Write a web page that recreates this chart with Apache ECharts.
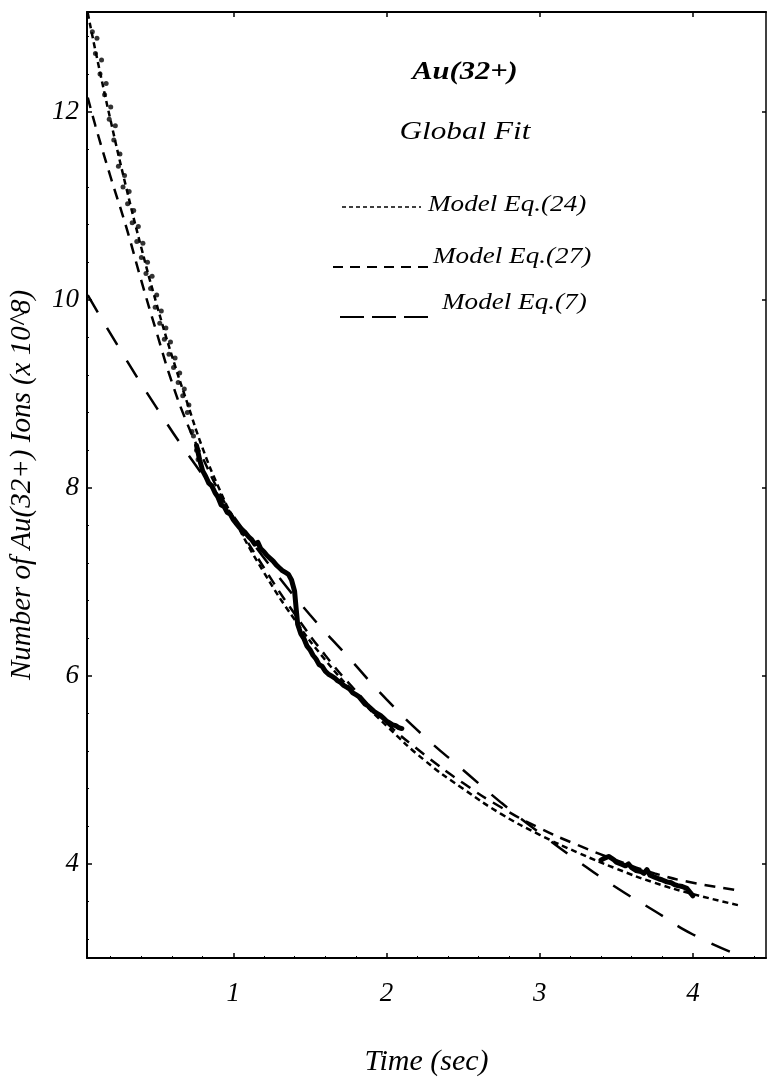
<!DOCTYPE html>
<html>
<head>
<meta charset="utf-8">
<script src="https://cdn.jsdelivr.net/npm/echarts@6/dist/echarts.min.js"></script>
<style>
  html, body { margin: 0; padding: 0; background: #fff; }
  #chart { width: 767px; height: 1082px; }
</style>
</head>
<body>
<div id="chart"></div>
<script>
// Axis tick values
const xTicks = [1, 2, 3, 4];
const xMinorTicks = [0.2, 0.4, 0.6, 0.8, 1.2, 1.4, 1.6, 1.8, 2.2, 2.4, 2.6, 2.8, 3.2, 3.4, 3.6, 3.8, 4.2, 4.4];
const yTicks = [4, 6, 8, 10, 12];
const yMinorTicks = [3.2, 3.6, 4.4, 4.8, 5.2, 5.6, 6.4, 6.8, 7.2, 7.6, 8.4, 8.8, 9.2, 9.6, 10.4, 10.8, 11.2, 11.6, 12.4, 12.8];

// Early measurements (sparse points), [time s, ions x10^8]
const dataEarly = [
  [0.08, 12.85], [0.10, 12.62], [0.11, 12.78], [0.13, 12.40], [0.14, 12.55], [0.16, 12.18],
  [0.17, 12.30], [0.19, 11.92], [0.20, 12.05], [0.22, 11.70], [0.23, 11.85], [0.25, 11.42],
  [0.26, 11.55], [0.28, 11.20], [0.29, 11.32], [0.31, 11.02], [0.32, 11.15], [0.34, 10.82],
  [0.35, 10.95], [0.37, 10.62], [0.38, 10.78], [0.40, 10.45], [0.41, 10.60], [0.43, 10.28],
  [0.44, 10.40], [0.46, 10.12], [0.47, 10.25], [0.49, 9.92], [0.50, 10.05], [0.52, 9.75],
  [0.53, 9.88], [0.55, 9.58], [0.56, 9.70], [0.58, 9.42], [0.59, 9.55], [0.61, 9.28],
  [0.62, 9.38], [0.64, 9.12], [0.65, 9.22], [0.67, 8.98], [0.68, 9.05], [0.70, 8.80],
  [0.71, 8.88], [0.73, 8.60], [0.74, 8.55], [0.76, 8.40], [0.77, 8.30]
];

// Dense measurements (continuous trace), gap between the two runs
const dataTrace = [
  [0.76, 8.45], [0.78, 8.30], [0.80, 8.18], [0.82, 8.12], [0.84, 8.05], [0.86, 8.02],
  [0.88, 7.95], [0.90, 7.90], [0.92, 7.82], [0.94, 7.80], [0.96, 7.74], [0.98, 7.72],
  [1.00, 7.66], [1.02, 7.62], [1.04, 7.58], [1.06, 7.55], [1.08, 7.52], [1.10, 7.48],
  [1.12, 7.45], [1.14, 7.40], [1.16, 7.42], [1.18, 7.35], [1.20, 7.32], [1.22, 7.28],
  [1.24, 7.25], [1.26, 7.22], [1.28, 7.18], [1.30, 7.15], [1.32, 7.12], [1.34, 7.10],
  [1.36, 7.08], [1.38, 7.02], [1.40, 6.90], [1.41, 6.72], [1.42, 6.55], [1.44, 6.45],
  [1.46, 6.40], [1.48, 6.32], [1.50, 6.28], [1.52, 6.22], [1.54, 6.18], [1.56, 6.12],
  [1.58, 6.10], [1.60, 6.05], [1.62, 6.02], [1.64, 6.00], [1.66, 5.98], [1.68, 5.95],
  [1.70, 5.93], [1.72, 5.90], [1.74, 5.88], [1.76, 5.86], [1.78, 5.82], [1.80, 5.80],
  [1.82, 5.78], [1.84, 5.74], [1.86, 5.70], [1.88, 5.68], [1.90, 5.65], [1.92, 5.62],
  [1.94, 5.60], [1.96, 5.58], [1.98, 5.55], [2.00, 5.52], [2.02, 5.50], [2.04, 5.48],
  [2.06, 5.47], [2.08, 5.45], [2.10, 5.44],
  [2.5, null],
  [3.40, 4.04], [3.42, 4.06], [3.45, 4.08], [3.48, 4.05], [3.50, 4.02], [3.53, 4.00],
  [3.56, 3.98], [3.58, 4.00], [3.60, 3.96], [3.63, 3.93], [3.66, 3.92], [3.68, 3.90],
  [3.70, 3.94], [3.72, 3.88], [3.75, 3.86], [3.78, 3.84], [3.80, 3.83], [3.83, 3.81],
  [3.86, 3.80], [3.88, 3.78], [3.90, 3.77], [3.93, 3.76], [3.96, 3.74], [3.98, 3.70],
  [4.00, 3.66]
];

// Model curves
const modelEq24 = [
  [0.05, 13.05], [0.1, 12.65], [0.2, 11.9], [0.3, 11.2], [0.4, 10.55], [0.5, 9.95],
  [0.6, 9.4], [0.7, 8.9], [0.8, 8.42], [0.9, 8.02], [1.0, 7.68], [1.2, 7.1],
  [1.4, 6.6], [1.6, 6.17], [1.8, 5.8], [2.0, 5.47], [2.25, 5.1], [2.5, 4.8],
  [2.75, 4.53], [3.0, 4.31], [3.25, 4.12], [3.5, 3.95], [3.75, 3.8], [4.0, 3.68], [4.3, 3.56]
];
const modelEq27 = [
  [0.05, 12.15], [0.1, 11.85], [0.2, 11.3], [0.3, 10.78], [0.4, 10.2], [0.5, 9.65],
  [0.6, 9.12], [0.7, 8.68], [0.8, 8.32], [0.9, 7.98], [1.0, 7.68], [1.2, 7.15],
  [1.4, 6.66], [1.6, 6.22], [1.8, 5.84], [2.0, 5.5], [2.25, 5.16], [2.5, 4.86],
  [2.75, 4.6], [3.0, 4.38], [3.25, 4.2], [3.5, 4.04], [3.75, 3.9], [4.0, 3.8], [4.3, 3.72]
];
const modelEq7 = [
  [0.05, 10.05], [0.25, 9.5], [0.5, 8.85], [0.75, 8.25], [1.0, 7.7], [1.25, 7.15],
  [1.5, 6.65], [1.75, 6.2], [2.0, 5.75], [2.25, 5.35], [2.5, 5.0], [2.75, 4.65],
  [3.0, 4.33], [3.25, 4.03], [3.5, 3.75], [3.75, 3.5], [4.0, 3.25], [4.3, 3.03]
];

const legendItems = [
  { text: 'Model Eq.(24)', dash: [4, 3], x1: 342, x2: 421, lineY: 207, textX: 428, textY: 205, width: 1.4 },
  { text: 'Model Eq.(27)', dash: [10, 7], x1: 333, x2: 429, lineY: 267, textX: 433, textY: 257, width: 2 },
  { text: 'Model Eq.(7)',  dash: [24, 8], x1: 340, x2: 436, lineY: 317, textX: 442, textY: 303, width: 2 }
];

const X_MIN = 0.045, X_MAX = 4.477, Y_MIN = 3, Y_MAX = 13.06;
const serif = '"Liberation Serif", "DejaVu Serif", serif';

const chart = echarts.init(document.getElementById('chart'), null, { renderer: 'canvas' });

const baseX = { type: 'value', min: X_MIN, max: X_MAX, splitLine: { show: false } };
const baseY = { type: 'value', min: Y_MIN, max: Y_MAX, splitLine: { show: false } };

// Heading and key text use a slightly widened serif face
const graphics = [
  { type: 'text', x: 465, y: 73, scaleX: 1.22, style: { text: 'Au(32+)', font: 'italic bold 25px ' + serif, textAlign: 'center', textVerticalAlign: 'middle', fill: '#000' } },
  { type: 'text', x: 465, y: 132, scaleX: 1.2, style: { text: 'Global Fit', font: 'italic 26px ' + serif, textAlign: 'center', textVerticalAlign: 'middle', fill: '#000' } }
];
legendItems.forEach(it => {
  graphics.push({ type: 'line', shape: { x1: it.x1, y1: it.lineY, x2: it.x2, y2: it.lineY },
    style: { stroke: '#000', lineWidth: it.width, lineDash: it.dash } });
  graphics.push({ type: 'text', x: it.textX, y: it.textY, scaleX: 1.18,
    style: { text: it.text, font: 'italic 23px ' + serif, textAlign: 'left', textVerticalAlign: 'middle', fill: '#000' } });
});

chart.setOption({
  animation: false,
  backgroundColor: '#fff',
  grid: { left: 79, right: 1, top: 12, bottom: 113, containLabel: false },
  xAxis: [
    Object.assign({}, baseX, {
      position: 'bottom',
      name: 'Time (sec)', nameLocation: 'middle', nameGap: 89,
      nameTextStyle: { fontFamily: serif, fontStyle: 'italic', fontSize: 30, color: '#000' },
      axisLine: { onZero: false, lineStyle: { color: '#000', width: 2 } },
      axisTick: { inside: true, length: 5, customValues: xTicks, lineStyle: { color: '#000', width: 1.5 } },
      axisLabel: { customValues: xTicks, margin: 22, fontFamily: serif, fontStyle: 'italic', fontSize: 27, color: '#000' }
    }),
    Object.assign({}, baseX, {
      position: 'bottom',
      axisLine: { show: false, onZero: false },
      axisTick: { inside: true, length: 2, customValues: xMinorTicks, lineStyle: { color: '#000', width: 1 } },
      axisLabel: { show: false }
    }),
    Object.assign({}, baseX, {
      position: 'top',
      axisLine: { onZero: false, lineStyle: { color: '#000', width: 2 } },
      axisTick: { inside: true, length: 5, customValues: xTicks, lineStyle: { color: '#000', width: 1.5 } },
      axisLabel: { show: false }
    })
  ],
  yAxis: [
    Object.assign({}, baseY, {
      position: 'left',
      name: 'Number of Au(32+) Ions (x 10^8)', nameLocation: 'middle', nameGap: 50, nameRotate: 90,
      nameTextStyle: { fontFamily: serif, fontStyle: 'italic', fontSize: 29, color: '#000' },
      axisLine: { onZero: false, lineStyle: { color: '#000', width: 2 } },
      axisTick: { inside: true, length: 5, customValues: yTicks, lineStyle: { color: '#000', width: 1.5 } },
      axisLabel: { customValues: yTicks, margin: 8, fontFamily: serif, fontStyle: 'italic', fontSize: 27, color: '#000' }
    }),
    Object.assign({}, baseY, {
      position: 'left',
      axisLine: { show: false, onZero: false },
      axisTick: { inside: true, length: 2, customValues: yMinorTicks, lineStyle: { color: '#000', width: 1 } },
      axisLabel: { show: false }
    }),
    Object.assign({}, baseY, {
      position: 'right',
      axisLine: { onZero: false, lineStyle: { color: '#000', width: 1.5 } },
      axisTick: { inside: true, length: 4, customValues: yTicks, lineStyle: { color: '#000', width: 1.5 } },
      axisLabel: { show: false }
    })
  ],
  graphic: graphics,
  series: [
    {
      name: 'Measured (early)', type: 'scatter', xAxisIndex: 0, yAxisIndex: 0,
      data: dataEarly, symbol: 'circle', symbolSize: 5,
      itemStyle: { color: '#000' }, silent: true
    },
    {
      name: 'Measured', type: 'line', xAxisIndex: 0, yAxisIndex: 0,
      data: dataTrace, showSymbol: false, connectNulls: false,
      lineStyle: { color: '#000', width: 5, join: 'round', cap: 'round' }, silent: true
    },
    {
      name: 'Model Eq.(24)', type: 'line', xAxisIndex: 0, yAxisIndex: 0,
      data: modelEq24, smooth: true, showSymbol: false,
      lineStyle: { color: '#000', width: 2.5, type: [6, 4] }, silent: true
    },
    {
      name: 'Model Eq.(27)', type: 'line', xAxisIndex: 0, yAxisIndex: 0,
      data: modelEq27, smooth: true, showSymbol: false,
      lineStyle: { color: '#000', width: 2.5, type: [11, 8] }, silent: true
    },
    {
      name: 'Model Eq.(7)', type: 'line', xAxisIndex: 0, yAxisIndex: 0,
      data: modelEq7, smooth: true, showSymbol: false,
      lineStyle: { color: '#000', width: 2.5, type: [20, 18] }, silent: true
    }
  ]
});
</script>
</body>
</html>
